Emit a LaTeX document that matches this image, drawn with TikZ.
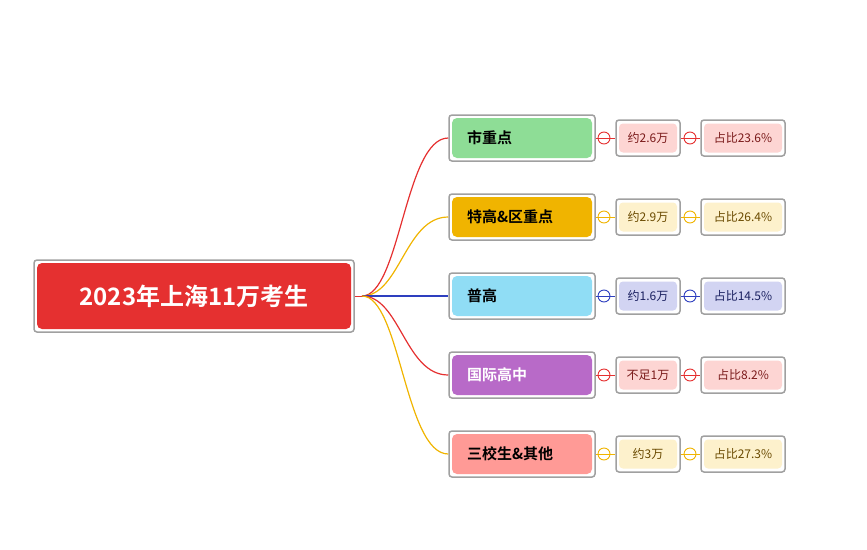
\documentclass[tikz,border=0pt]{standalone}
\usepackage{fontspec}
\setmainfont{Noto Sans CJK SC}
\newfontfamily\cjkb{Noto Sans CJK SC Bold}
\definecolor{cR}{HTML}{E53030}
\definecolor{cY}{HTML}{F0B400}
\definecolor{cB}{HTML}{2E3FBF}
\definecolor{cP}{HTML}{B86AC8}
\definecolor{cK}{HTML}{FF9A96}
\definecolor{cG}{HTML}{8EDD96}
\definecolor{cL}{HTML}{90DDF5}
\definecolor{fR}{HTML}{FDD5D3}
\definecolor{fY}{HTML}{FDF1CC}
\definecolor{fB}{HTML}{D2D4F2}
\definecolor{tR}{HTML}{7A1A1A}
\definecolor{tY}{HTML}{6A4A00}
\definecolor{tB}{HTML}{1A2060}
\definecolor{fr}{HTML}{A0A0A0}
\tikzset{
 x=1pt,y=-1pt,
 frame/.style={draw=fr,line width=1.5pt,rounded corners=3pt,fill=white,inner sep=0pt},
 branchbox/.style={rounded corners=5pt,minimum width=140pt,minimum height=40pt,font=\cjkb\fontsize{15}{15}\selectfont,inner sep=0pt},
 smallbox/.style={rounded corners=4pt,minimum height=29pt,font=\fontsize{12}{12}\selectfont,inner sep=0pt},
 ring/.style={circle,draw,line width=0.9pt,fill=white,minimum size=12pt,inner sep=0pt},
}
\begin{document}
\begin{tikzpicture}
\useasboundingbox (0,0) rectangle (867,549);
% root
\node[frame,minimum width=320pt,minimum height=72pt] (rootf) at (194,296) {};
\node[fill=cR,rounded corners=5pt,minimum width=314pt,minimum height=66pt,text=white,font=\cjkb\fontsize{24}{24}\selectfont] (root) at (194,296) {2023年上海11万考生};
\coordinate (hub) at (362,296);
\draw[cR,line width=1pt] (rootf.east) -- (hub);
\foreach \i/\y/\lc/\bc/\tc/\lab/\sa/\sb/\sf/\st/\sw in {
 1/138/cR/cG/black/市重点/约2.6万/占比23.6\%/fR/tR/62,
 2/217/cY/cY/black/特高\&区重点/约2.9万/占比26.4\%/fY/tY/62,
 3/296/cB/cL/black/普高/约1.6万/占比14.5\%/fB/tB/62,
 4/375/cR/cP/white/国际高中/不足1万/占比8.2\%/fR/tR/62,
 5/454/cY/cK/black/三校生\&其他/约3万/占比27.3\%/fY/tY/62}{
 \node[frame,minimum width=146pt,minimum height=46pt] (bf\i) at (522,\y) {};
 \node[branchbox,fill=\bc,text=\tc,text width=110pt,align=left] (b\i) at (522,\y) {\lab};
 \draw[\lc,line width=1.2pt] (hub) .. controls (400,296) and (405,\y) .. (bf\i.west);
 \node[frame,minimum width=64pt,minimum height=36pt] (sf\i) at (648,\y) {};
 \node[smallbox,fill=\sf,text=\st,minimum width=58pt] (s\i) at (648,\y) {\sa};
 \node[frame,minimum width=84pt,minimum height=36pt] (tf\i) at (743,\y) {};
 \node[smallbox,fill=\sf,text=\st,minimum width=78pt] (t\i) at (743,\y) {\sb};
 \draw[\lc,line width=1pt] (bf\i.east) -- (sf\i.west);
 \draw[\lc,line width=1pt] (sf\i.east) -- (tf\i.west);
 \node[ring,draw=\lc] (r\i) at (604,\y) {};
 \node[ring,draw=\lc] (q\i) at (690,\y) {};
 \draw[\lc,line width=0.9pt] (r\i.west) -- (r\i.east);
 \draw[\lc,line width=0.9pt] (q\i.west) -- (q\i.east);
}
\end{tikzpicture}
\end{document}
